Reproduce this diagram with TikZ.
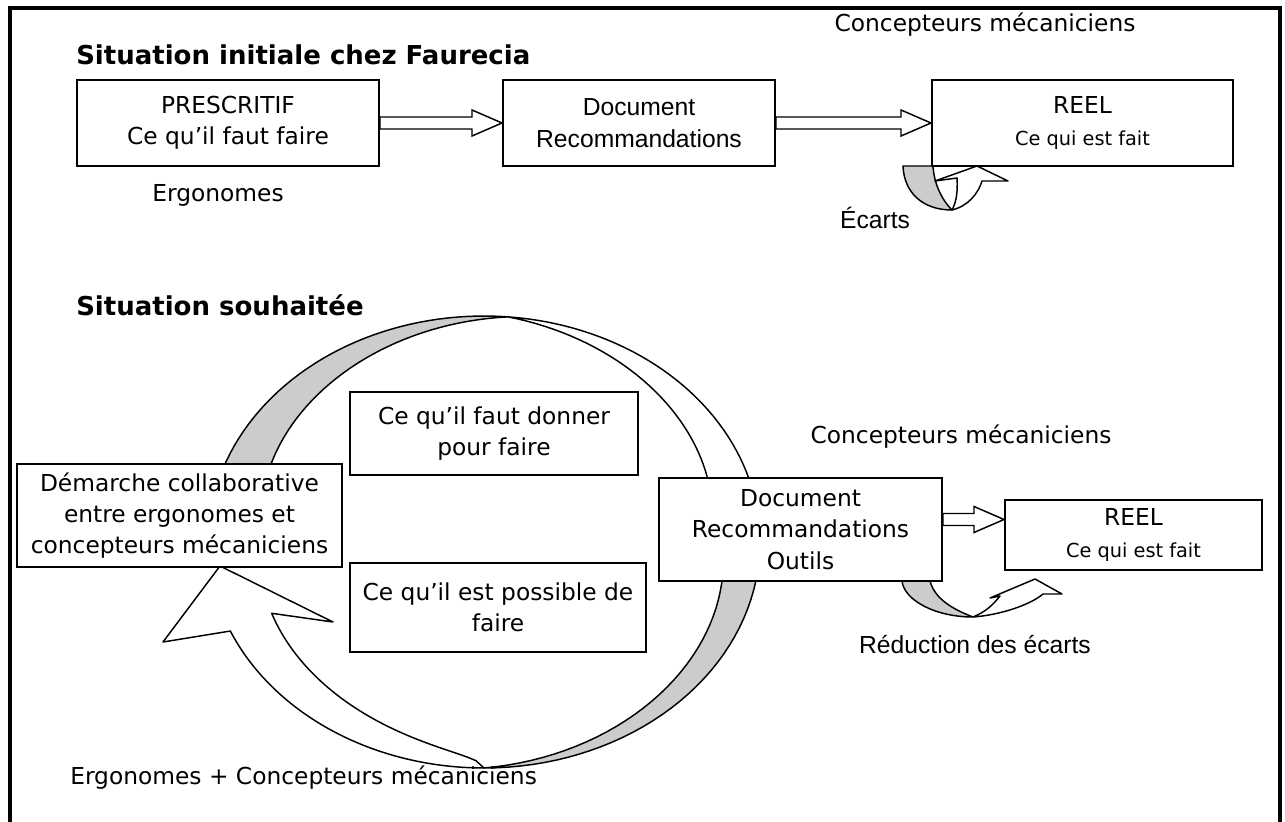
\documentclass[tikz,border=0pt]{standalone}
\usepackage{fontspec}
\setmainfont{DejaVu Sans}
\newfontfamily\arialfont{Liberation Sans}
\usetikzlibrary{calc,positioning}

\newcommand{\txtsize}{\fontsize{17.5pt}{23.5pt}\selectfont}
\newcommand{\arialsize}{\arialfont\fontsize{18.5pt}{24pt}\selectfont}
\newcommand{\smallsize}{\fontsize{14.5pt}{18pt}\selectfont}
\newcommand{\headsize}{\bfseries\fontsize{19.5pt}{24pt}\selectfont}

\newcommand{\hollowarrow}[2]{%
\draw[line width=1.1pt,fill=white] let \p1=#1, \p2=#2 in
 (\x1,\y1+4.5pt) -- (\x2-22.5pt,\y1+4.5pt) -- (\x2-22.5pt,\y1+9.75pt) -- (\x2,\y1)
 -- (\x2-22.5pt,\y1-9.75pt) -- (\x2-22.5pt,\y1-4.5pt) -- (\x1,\y1-4.5pt) -- cycle;}

\begin{document}
\begin{tikzpicture}[x=0.75pt,y=-0.75pt,
  declare function={ringx(\ang,\wid)=484+(276-\wid)*cos(\ang);
                    ringy(\ang,\wid)=542-(226-\wid)*sin(\ang);}]
\tikzstyle{box}=[draw,line width=1.5pt,fill=white,inner sep=0pt,align=center,font=\txtsize]
\tikzstyle{note}=[inner sep=0pt,font=\txtsize]
\tikzstyle{heading}=[inner sep=0pt,anchor=base west]
\tikzstyle{band}=[line width=1.1pt,line join=round]

\useasboundingbox (0,0) rectangle (1285,821);
\draw[line width=3pt] (10,8) rectangle (1280,840);

% big circular arrow
\filldraw[band,fill=gray!40] plot[domain=85:165,samples=40] ({ringx(\x,0)},{ringy(\x,0)})
  -- plot[domain=165:85,samples=40] ({ringx(\x,44*(\x-85)/75)},{ringy(\x,44*(\x-85)/75)}) -- cycle;
\filldraw[band,fill=white] plot[domain=85:8,samples=40] ({ringx(\x,0)},{ringy(\x,0)})
  -- plot[domain=8:85,samples=40] ({ringx(\x,40*(85-\x)/68)},{ringy(\x,40*(85-\x)/68)}) -- cycle;
\filldraw[band,fill=gray!40] plot[domain=8:-90,samples=40] ({ringx(\x,0)},{ringy(\x,0)})
  -- plot[domain=-90:8,samples=40] ({ringx(\x,40*(\x+90)/95)},{ringy(\x,40*(\x+90)/95)}) -- cycle;
\filldraw[band,fill=white] plot[domain=270:203.2,samples=40] ({ringx(\x,0)},{ringy(\x,0)})
  -- (163,642) -- (220,566) -- (333,622)
  -- plot[domain=203.2:270,samples=40] ({ringx(\x,45*sqrt(abs(270-\x)/66.8))},{ringy(\x,45*sqrt(abs(270-\x)/66.8))}) -- cycle;

% small curved arrows
\filldraw[band,fill=gray!40] (903,166) .. controls (904,192) and (922,210) .. (952,210)
  .. controls (942,200) and (934,184) .. (933,166) -- cycle;
\filldraw[band,fill=white] (952,210) .. controls (968,206) and (978,194) .. (982,181)
  -- (1008,181) -- (977,166) -- (935,181) -- (957,178)
  .. controls (958,192) and (956,203) .. (952,210) -- cycle;
\filldraw[band,fill=gray!40] (902,581) .. controls (904,600) and (935,617) .. (973,617)
  .. controls (955,610) and (935,600) .. (930,581) -- cycle;
\filldraw[band,fill=white] (973,617) .. controls (1000,615) and (1030,605) .. (1043,594)
  -- (1062,594) -- (1035,579) -- (990,598) -- (1000,596)
  .. controls (992,606) and (985,612) .. (973,617) -- cycle;

% situation initiale
\node[heading] (t1) at (76,64) {\headsize Situation initiale chez Faurecia};
\node[note] (cm1) at (985,25) {Concepteurs mécaniciens};
\node[box,minimum width=226.5pt,minimum height=64.5pt] (presc) at (228,123) {PRESCRITIF\\Ce qu’il faut faire};
\node[box,minimum width=204pt,minimum height=64.5pt,font=\arialsize] (doc) at (639,123) {Document\\Recommandations};
\node[box,minimum width=225.75pt,minimum height=64.5pt] (reel) at (1082.5,123) {REEL\\{\smallsize Ce qui est fait}};
\node[note] (ergo) at (218,195) {Ergonomes};
\node[note,font=\arialsize] (ecarts) at (875,218) {Écarts};
\hollowarrow{(presc.east)}{(doc.west)}
\hollowarrow{(doc.east)}{(reel.west)}

% situation souhaitee
\node[heading] (t2) at (76,315) {\headsize Situation souhaitée};
\node[box,minimum width=243.75pt,minimum height=77.25pt] (demarche) at (179.5,515.5) {Démarche collaborative\\entre ergonomes et\\concepteurs mécaniciens};
\node[box,minimum width=216pt,minimum height=62.25pt] (donner) at (494,433.5) {Ce qu’il faut donner\\pour faire};
\node[box,minimum width=222pt,minimum height=66.75pt] (possible) at (498,607.5) {Ce qu’il est possible de\\faire};
\node[note] (cm2) at (961,437) {Concepteurs mécaniciens};
\node[box,minimum width=212.25pt,minimum height=77.25pt] (doc2) at (800.5,529.5) {Document\\Recommandations\\Outils};
\node[box,minimum width=192.75pt,minimum height=52.5pt] (reel2) at (1133.5,535) {REEL\\{\smallsize Ce qui est fait}};
\node[note,font=\arialsize] (reduc) at (975,645) {Réduction des écarts};
\node[note,anchor=west] (both) at (70,778) {Ergonomes + Concepteurs mécaniciens};
\hollowarrow{($(doc2.east)+(0,-10)$)}{(reel2.west)}

\end{tikzpicture}
\end{document}
